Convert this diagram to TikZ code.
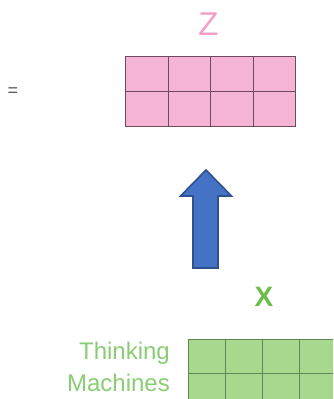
\documentclass[tikz,border=0pt]{standalone}
\usepackage{fontspec}
\setmainfont{Liberation Sans}
\definecolor{pinkfill}{RGB}{245,180,212}
\definecolor{pinkline}{RGB}{112,74,96}
\definecolor{pinktext}{RGB}{243,160,198}
\definecolor{greenfill}{RGB}{168,216,142}
\definecolor{greenline}{RGB}{92,138,82}
\definecolor{greentext}{RGB}{138,204,116}
\definecolor{xgreen}{RGB}{108,190,72}
\definecolor{arrowfill}{RGB}{68,114,196}
\definecolor{arrowline}{RGB}{47,82,143}
\tikzset{
  pinkcell/.style={draw=pinkline,fill=pinkfill,line width=1pt,minimum width=42.5pt,minimum height=35pt,inner sep=0pt,anchor=north west},
  greencell/.style={draw=greenline,fill=greenfill,line width=0.9pt,minimum width=37pt,minimum height=34pt,inner sep=0pt,anchor=north west},
  blockarrow/.style={fill=arrowfill,draw=arrowline,line width=1.6pt,line join=miter},
}
\begin{document}
\begin{tikzpicture}[x=1pt,y=-1pt]
\useasboundingbox (0,0) rectangle (333,399);
\clip (0,0) rectangle (333,399);
% Z label
\node[text=pinktext,font=\fontsize{33}{35}\selectfont,inner sep=0pt] (zlabel) at (208.5,24.5) {Z};
% equals sign
\node[text=black!65,font=\fontsize{18}{20}\selectfont,inner sep=0pt] (eq) at (13,92.5) {=};
% pink grid
\foreach \r in {0,1}{
  \foreach \c in {0,1,2,3}{
    \node[pinkcell] (z\r\c) at (125+\c*42.5,56+\r*35) {};
  }
}
% block arrow
\path[blockarrow] (193,268) -- (218,268) -- (218,196) -- (231.5,196) -- (206,170) -- (180.5,196) -- (193,196) -- cycle;
% X label
\node[text=xgreen,font=\bfseries\fontsize{28}{30}\selectfont,inner sep=0pt] (xlabel) at (264,297) {X};
% green grid
\foreach \r in {0,1}{
  \foreach \c in {0,1,2,3}{
    \node[greencell] (x\r\c) at (188+\c*37,339+\r*34) {};
  }
}
% text
\node[text=greentext,font=\fontsize{24}{32}\selectfont,anchor=base east,inner sep=0pt] (t1) at (170,359) {Thinking};
\node[text=greentext,font=\fontsize{24}{32}\selectfont,anchor=base east,inner sep=0pt] (t2) at (170,391) {Machines};
\end{tikzpicture}
\end{document}
